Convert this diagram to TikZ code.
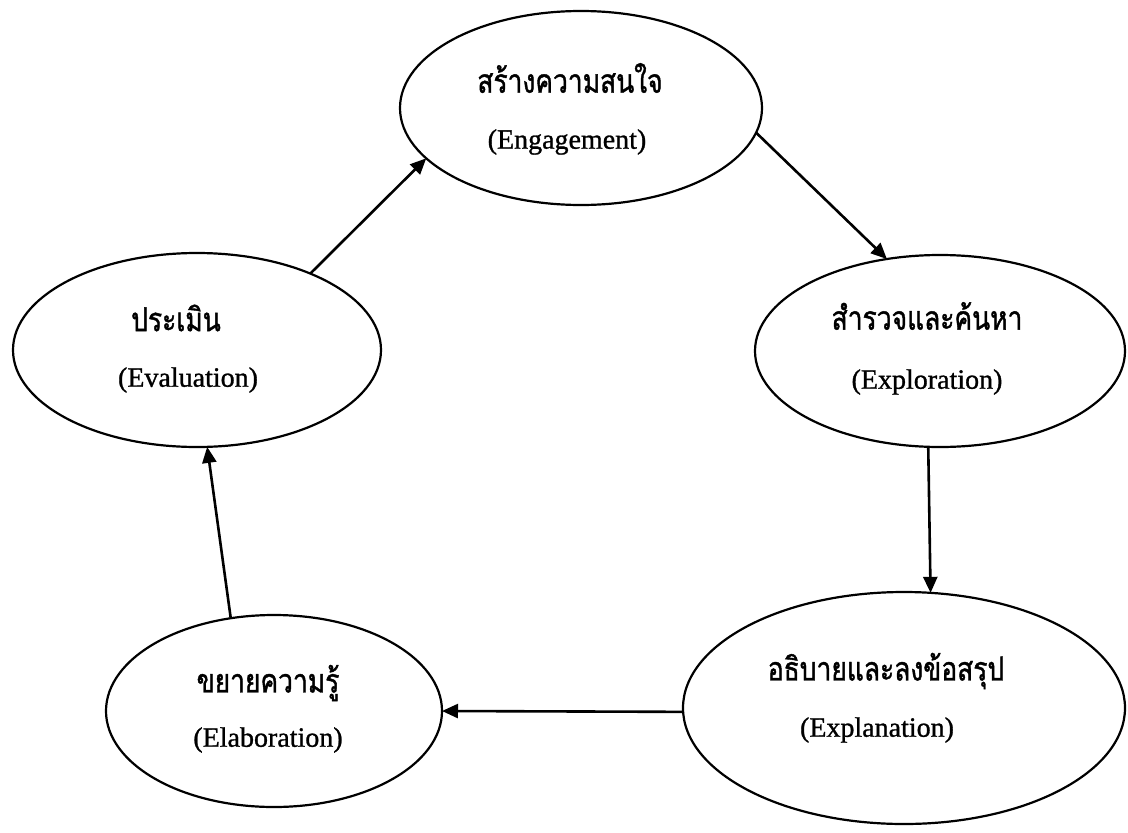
\documentclass[tikz,border=0pt]{standalone}
\usepackage{fontspec}
\setmainfont{Liberation Serif}
\newfontfamily\enfont[FakeBold=1]{Liberation Serif}
\newfontfamily\thaifont[Script=Thai,FakeStretch=0.8,FakeBold=1.2]{Loma}
\usetikzlibrary{shapes.geometric,arrows.meta}
\tikzset{
  phase/.style={draw=black,line width=2.2pt,ellipse,inner sep=0pt,outer sep=0pt},
  th/.style={font=\thaifont\fontsize{33}{38}\selectfont,inner sep=0pt},
  en/.style={font=\enfont\fontsize{28}{32}\selectfont,inner sep=0pt},
  arr/.style={draw=black,line width=2.6pt,-{Triangle[length=16pt,width=14pt]}}
}
\begin{document}
\begin{tikzpicture}[x=1pt,y=-1pt]
\useasboundingbox (0,0) rectangle (1128,833);
% ellipses
\node[phase,minimum width=362pt,minimum height=194pt] (eng) at (581,108) {};
\node[phase,minimum width=370pt,minimum height=192pt] (exp) at (940,351) {};
\node[phase,minimum width=442pt,minimum height=232pt] (expl) at (904,708) {};
\node[phase,minimum width=336pt,minimum height=192pt] (ela) at (274,711) {};
\node[phase,minimum width=368pt,minimum height=194pt] (eva) at (197,350) {};
% texts
\node[th] (ength) at (570,78) {สร้างความสนใจ};
\node[en] (engen) at (567,142) {(Engagement)};
\node[th] (expth) at (927,316) {สำรวจและค้นหา};
\node[en] (expen) at (927,382) {(Exploration)};
\node[th] (explth) at (886,671) {อธิบายและลงข้อสรุป};
\node[en] (explen) at (877,730) {(Explanation)};
\node[th] (elath) at (268,683) {ขยายความรู้};
\node[en] (elaen) at (268,740) {(Elaboration)};
\node[th] (evath) at (176,318) {ประเมิน};
\node[en] (evaen) at (188,380) {(Evaluation)};
% arrows
\draw[arr] (eng.-8) -- (exp.120.2);
\draw[arr] (exp.263.5) -- (expl.77.8);
\draw[arr] (expl.181) -- (ela.0);
\draw[arr] (ela.115) -- (eva.-84);
\draw[arr] (eva.34.3) -- (eng.-162.4);
\end{tikzpicture}
\end{document}
